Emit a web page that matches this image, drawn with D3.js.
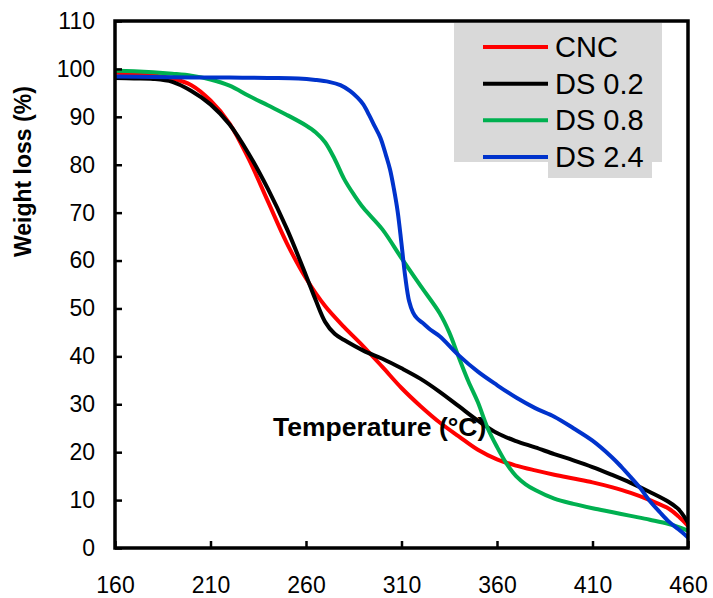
<!DOCTYPE html>
<html>
<head>
<meta charset="utf-8">
<script src="https://cdn.jsdelivr.net/npm/d3@7"></script>
<style>
  html, body { margin: 0; padding: 0; background: #fff; }
  svg { display: block; font-family: "Liberation Sans", Arial, sans-serif; }
</style>
</head>
<body>
<svg id="chart" width="713" height="598"></svg>
<script>
// TGA curves: weight remaining (%) versus temperature (°C)
const seriesNames = ["CNC", "DS 0.2", "DS 0.8", "DS 2.4"];
const seriesColors = ["#ff0000", "#000000", "#00b050", "#0033cc"];

const cncTemp = [160,170,180,190,200,210,220,230,240,250,260,270,280,290,300,310,320,330,340,350,360,370,380,390,400,410,420,430,440,450,455,460];
const cncWeight = [99.2,99.0,98.6,98.0,96.6,93.4,88.6,81.2,72.4,63.6,56.3,50.5,46.1,42.1,37.8,33.4,29.6,26.2,23.3,20.5,18.5,17.2,16.2,15.3,14.5,13.7,12.7,11.5,10.0,8.2,6.6,4.6];

const ds02Temp = [160,170,180,190,200,210,220,230,240,250,260,265,270,275,280,290,300,310,320,330,340,350,360,370,380,390,400,410,420,430,440,450,455,460];
const ds02Weight = [98.1,98.0,97.9,97.3,95.4,92.6,88.4,82.3,75.0,66.6,56.9,51.8,47.2,44.7,43.4,41.2,39.5,37.5,35.3,32.6,29.6,26.6,24.0,22.3,21.0,19.6,18.3,16.9,15.3,13.6,11.7,9.6,8.1,5.3];

const ds08Temp = [160,170,180,190,200,210,220,230,240,250,260,265,270,275,280,285,290,300,310,320,330,335,340,345,350,355,360,365,370,375,380,390,400,410,420,430,440,450,460];
const ds08Weight = [99.6,99.5,99.3,99.0,98.6,97.8,96.5,94.4,92.4,90.4,88.2,86.8,84.7,81.2,77.0,73.8,71.0,66.5,60.5,54.7,49.0,45.0,39.8,34.8,30.4,25.1,21.1,17.6,15.0,13.3,12.1,10.3,9.2,8.3,7.5,6.7,5.9,5.0,3.6];

const ds24Temp = [160,180,200,220,240,256,265,272,278,283,287,290,293,296,299,302,304,306,308,310,312,314,316,318,321,325,330,340,350,360,370,380,390,400,410,420,425,430,435,440,445,450,455,460];
const ds24Weight = [98.4,98.3,98.2,98.2,98.1,98.0,97.7,97.3,96.6,95.4,94.0,92.6,90.4,88.0,85.6,81.8,79.0,75.0,70.2,63.5,56.5,51.5,49.2,48.0,47.0,45.6,44.2,40.2,36.8,34.0,31.4,29.2,27.4,25.0,22.4,19.0,17.0,14.8,12.5,9.8,7.6,5.5,3.9,2.2];

const xTicks = [160,210,260,310,360,410,460];
const yTicks = [0,10,20,30,40,50,60,70,80,90,100,110];

const seriesTemps = [cncTemp, ds02Temp, ds08Temp, ds24Temp];
const seriesWeights = [cncWeight, ds02Weight, ds08Weight, ds24Weight];

const svg = d3.select("#chart");
const plot = { left: 115, right: 688, top: 21, bottom: 548 };

const x = d3.scaleLinear().domain([160, 460]).range([plot.left, plot.right]);
const y = d3.scaleLinear().domain([0, 110]).range([plot.bottom, plot.top]);

svg.append("defs").append("clipPath").attr("id", "plotClip")
  .append("rect")
  .attr("x", plot.left).attr("y", plot.top)
  .attr("width", plot.right - plot.left).attr("height", plot.bottom - plot.top);

// curves
const line = d3.line()
  .x(d => x(d[0]))
  .y(d => y(d[1]))
  .curve(d3.curveCatmullRom.alpha(0.5));

const curves = svg.append("g").attr("clip-path", "url(#plotClip)");
seriesNames.forEach((name, i) => {
  const pts = seriesTemps[i].map((t, j) => [t, seriesWeights[i][j]]);
  curves.append("path")
    .datum(pts)
    .attr("d", line)
    .attr("fill", "none")
    .attr("stroke", seriesColors[i])
    .attr("stroke-width", 4)
    .attr("stroke-linejoin", "round")
    .attr("stroke-linecap", "round");
});

// axes with inward ticks
const yAxis = svg.append("g")
  .attr("transform", `translate(${plot.left},0)`)
  .call(d3.axisLeft(y).tickValues(yTicks).tickSize(-7).tickSizeOuter(0).tickPadding(20));
const xAxis = svg.append("g")
  .attr("transform", `translate(0,${plot.bottom})`)
  .call(d3.axisBottom(x).tickValues(xTicks).tickSize(-7).tickSizeOuter(0).tickPadding(29));

[yAxis, xAxis].forEach(g => {
  g.select(".domain").remove();
  g.selectAll(".tick line").attr("stroke", "#000").attr("stroke-width", 2.5);
  g.selectAll(".tick text")
    .attr("fill", "#000")
    .style("font-size", "23px")
    .style("font-family", "'Liberation Sans', Arial, sans-serif");
});

// frame
svg.append("rect")
  .attr("x", plot.left).attr("y", plot.top)
  .attr("width", plot.right - plot.left).attr("height", plot.bottom - plot.top)
  .attr("fill", "none").attr("stroke", "#000").attr("stroke-width", 3.5);

// axis titles
svg.append("text")
  .attr("transform", "translate(31,257) rotate(-90)")
  .attr("text-anchor", "start")
  .style("font-size", "23px").style("font-weight", "bold")
  .text("Weight loss (%)");

svg.append("text")
  .attr("x", 273).attr("y", 436)
  .style("font-size", "26.5px").style("font-weight", "bold")
  .text("Temperature (°C)");

// legend
const legend = svg.append("g");
legend.append("rect").attr("x", 454).attr("y", 23).attr("width", 208).attr("height", 139).attr("fill", "#d9d9d9");
legend.append("rect").attr("x", 548).attr("y", 160).attr("width", 104).attr("height", 18).attr("fill", "#d9d9d9");
const rowY = d3.scalePoint().domain(seriesNames).range([47, 157]);
seriesNames.forEach((name, i) => {
  const ry = rowY(name);
  legend.append("line")
    .attr("x1", 483).attr("x2", 548).attr("y1", ry).attr("y2", ry)
    .attr("stroke", seriesColors[i]).attr("stroke-width", 4);
  legend.append("text")
    .attr("x", 555).attr("y", ry + 10)
    .style("font-size", "29px")
    .text(name);
});
</script>
</body>
</html>
